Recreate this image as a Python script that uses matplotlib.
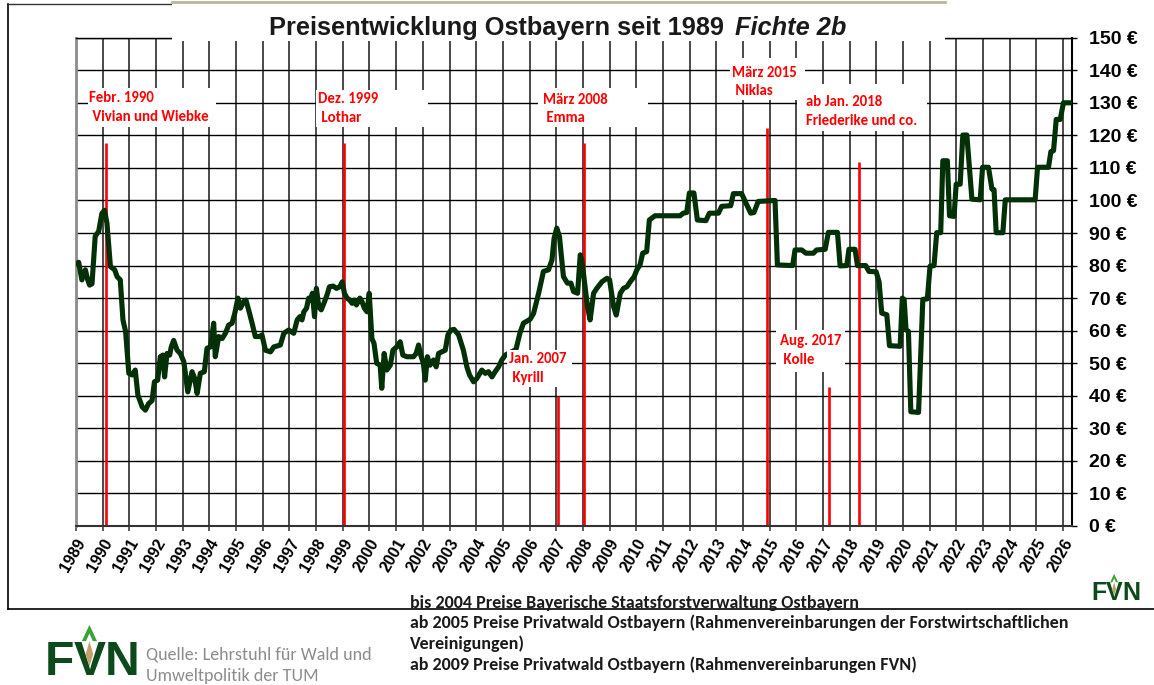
import matplotlib
matplotlib.use("Agg")
import matplotlib.pyplot as plt
from matplotlib import font_manager as fm
from matplotlib.patches import Rectangle, Polygon
from matplotlib.transforms import ScaledTranslation
import numpy as np

# ---------------- data ----------------
years = [
    1989.00, 1989.10, 1989.22, 1989.35, 1989.44, 1989.51, 1989.60, 1989.72, 1989.85, 1989.97,
    1990.07, 1990.16, 1990.29, 1990.45, 1990.54, 1990.66, 1990.76, 1990.86, 1990.98, 1991.10,
    1991.22, 1991.32, 1991.48, 1991.60, 1991.72, 1991.85, 1991.94, 1992.06, 1992.16, 1992.26,
    1992.32, 1992.41, 1992.51, 1992.57, 1992.66, 1992.79, 1992.91, 1993.04, 1993.19, 1993.35,
    1993.45, 1993.54, 1993.66, 1993.81, 1993.91, 1994.04, 1994.16, 1994.22, 1994.35, 1994.48,
    1994.60, 1994.72, 1994.85, 1994.95, 1995.07, 1995.16, 1995.29, 1995.37, 1995.47, 1995.60,
    1995.72, 1995.89, 1995.97, 1996.10, 1996.29, 1996.41, 1996.66, 1996.79, 1996.97, 1997.16,
    1997.29, 1997.39, 1997.47, 1997.54, 1997.64, 1997.72, 1997.79, 1997.86, 1997.94, 1998.01,
    1998.10, 1998.19, 1998.29, 1998.41, 1998.50, 1998.64, 1998.76, 1998.89, 1998.98, 1999.06,
    1999.16, 1999.26, 1999.35, 1999.44, 1999.51, 1999.64, 1999.72, 1999.81, 1999.91, 1999.99,
    2000.09, 2000.17, 2000.27, 2000.40, 2000.46, 2000.55, 2000.65, 2000.78, 2000.88, 2001.02,
    2001.15, 2001.25, 2001.40, 2001.65, 2001.75, 2001.84, 2001.92, 2002.02, 2002.09, 2002.17,
    2002.27, 2002.40, 2002.50, 2002.59, 2002.71, 2002.84, 2002.94, 2003.05, 2003.17, 2003.34,
    2003.52, 2003.65, 2003.75, 2003.90, 2004.02, 2004.21, 2004.34, 2004.46, 2004.59, 2004.71,
    2004.84, 2004.96, 2005.09, 2005.49, 2005.64, 2005.77, 2006.02, 2006.15, 2006.34, 2006.52,
    2006.71, 2006.84, 2006.92, 2007.02, 2007.12, 2007.27, 2007.42, 2007.55, 2007.65, 2007.80,
    2007.90, 2007.96, 2008.05, 2008.17, 2008.27, 2008.40, 2008.52, 2008.71, 2008.90, 2009.00,
    2009.15, 2009.25, 2009.40, 2009.52, 2009.65, 2009.77, 2009.92, 2010.02, 2010.14, 2010.24,
    2010.39, 2010.49, 2010.70, 2011.64, 2011.76, 2011.89, 2011.99, 2012.16, 2012.29, 2012.61,
    2012.74, 2013.08, 2013.20, 2013.54, 2013.64, 2013.95, 2014.11, 2014.29, 2014.41, 2014.57,
    2015.20, 2015.29, 2015.86, 2015.95, 2016.20, 2016.36, 2016.64, 2016.76, 2017.08, 2017.20,
    2017.54, 2017.64, 2017.89, 2017.97, 2018.20, 2018.29, 2018.60, 2018.72, 2018.99, 2019.10,
    2019.20, 2019.39, 2019.49, 2019.89, 2019.97, 2020.04, 2020.11, 2020.20, 2020.29, 2020.58,
    2020.74, 2020.91, 2021.01, 2021.16, 2021.26, 2021.41, 2021.49, 2021.66, 2021.74, 2021.91,
    2021.99, 2022.14, 2022.24, 2022.39, 2022.58, 2022.89, 2022.98, 2023.20, 2023.33, 2023.41,
    2023.49, 2023.74, 2023.83, 2024.95, 2025.04, 2025.45, 2025.54, 2025.64, 2025.74, 2025.89,
    2026.01, 2026.26,
]
prices = [
    80.5, 81.0, 75.6, 78.7, 75.6, 74.0, 74.4, 89.0, 90.5, 96.0,
    97.0, 93.0, 79.7, 78.7, 76.6, 75.6, 63.3, 59.7, 46.9, 46.4,
    47.9, 40.2, 36.6, 35.6, 37.6, 38.5, 44.3, 44.8, 52.0, 52.5,
    45.8, 53.0, 52.5, 55.0, 57.0, 54.0, 53.0, 50.5, 41.2, 47.4,
    45.3, 40.7, 46.9, 47.4, 54.6, 55.0, 62.3, 52.0, 58.2, 57.6,
    59.2, 61.7, 62.3, 65.3, 70.0, 66.9, 69.0, 69.4, 66.4, 62.3,
    58.2, 58.2, 58.7, 54.0, 53.5, 55.0, 55.6, 59.2, 60.2, 59.2,
    63.3, 64.3, 63.3, 65.8, 66.9, 70.0, 69.4, 71.5, 64.3, 73.0,
    67.4, 66.4, 68.4, 71.0, 73.5, 73.7, 73.0, 73.5, 75.0, 71.5,
    70.0, 69.4, 68.4, 69.4, 67.9, 70.0, 68.9, 66.9, 65.8, 71.5,
    57.6, 56.1, 50.0, 49.4, 42.3, 53.0, 47.9, 49.4, 54.0, 55.0,
    56.6, 52.5, 52.0, 52.0, 53.0, 55.6, 52.5, 50.0, 44.8, 52.0,
    49.4, 51.0, 48.9, 53.0, 53.5, 54.0, 58.7, 60.2, 60.4, 58.7,
    54.0, 48.9, 46.4, 44.3, 45.3, 47.9, 46.9, 47.4, 45.8, 47.4,
    48.9, 51.0, 52.5, 54.2, 59.3, 62.3, 63.5, 65.3, 71.5, 78.2,
    78.7, 81.7, 88.4, 91.5, 88.9, 76.6, 74.6, 74.6, 72.0, 71.5,
    83.3, 81.7, 75.6, 67.4, 63.3, 71.5, 73.0, 75.0, 76.1, 75.6,
    67.4, 64.8, 71.5, 73.0, 73.5, 75.0, 76.6, 78.7, 80.2, 83.8,
    84.3, 94.0, 95.3, 95.3, 96.1, 96.3, 102.3, 102.3, 94.0, 93.8,
    96.1, 96.1, 98.2, 98.4, 102.1, 102.1, 99.2, 96.1, 96.3, 99.7,
    100.0, 80.2, 80.0, 84.8, 84.8, 83.8, 83.8, 84.8, 85.0, 90.2,
    90.2, 79.9, 80.0, 85.0, 85.0, 80.0, 80.0, 78.2, 78.1, 75.0,
    65.4, 64.9, 55.4, 55.2, 70.0, 69.6, 60.3, 59.8, 35.1, 34.9,
    69.6, 69.8, 79.8, 80.0, 90.1, 90.1, 112.2, 112.2, 95.3, 95.1,
    105.0, 105.0, 120.1, 120.1, 100.4, 100.2, 110.2, 110.2, 103.5, 103.3,
    90.1, 90.1, 100.2, 100.2, 110.2, 110.2, 115.0, 115.3, 124.9, 124.9,
    130.0, 130.0,
]

tick_years = list(range(1989, 2027))
price_ticks = list(range(0, 151, 10))
price_labels = [f"{v} €" for v in price_ticks]

event_years = [1990.12, 1999.03, 2007.08, 2008.04, 2014.89, 2017.22, 2018.33]
event_tops = [117.6, 117.6, 40.0, 117.6, 122.2, 42.7, 111.7]
event_line1 = ["Febr. 1990", "Dez. 1999", "Jan. 2007", "März 2008", "März 2015", "Aug. 2017", "ab Jan. 2018"]
event_line2 = [" Vivian und Wiebke", " Lothar", " Kyrill", " Emma", " Niklas", " Kolle", "Friederike und co."]

title_main = "Preisentwicklung Ostbayern seit 1989 "
title_italic = "Fichte 2b"
notes = [
    "bis 2004 Preise Bayerische Staatsforstverwaltung Ostbayern",
    "ab 2005 Preise Privatwald Ostbayern (Rahmenvereinbarungen der Forstwirtschaftlichen",
    "Vereinigungen)",
    "ab 2009 Preise Privatwald Ostbayern (Rahmenvereinbarungen FVN)",
]
source_text = ["Quelle: Lehrstuhl für Wald und", "Umweltpolitik der TUM"]
logo_letters = ["F", "V", "N"]

# ---------------- fonts ----------------
names = {f.name for f in fm.fontManager.ttflist}
calib = "Carlito" if "Carlito" in names else "Lato"
arial = "Liberation Sans"

W, H = 1154, 685
DPI = 100
fig = plt.figure(figsize=(W / DPI, H / DPI), dpi=DPI)
fig.patch.set_facecolor("white")


def fx(x):
    return x / W


def fy(y):
    return 1 - y / H


# axes placement (pixels: left 76, right 1072, top 37.7, bottom 526)
L, R, T, B = 76, 1072, 37.7, 526
ax = fig.add_axes([fx(L), fy(B), (R - L) / W, (B - T) / H])
x_end = 1989 + (R - L) / 26.68
ax.set_xlim(1989, x_end)
ax.set_ylim(0, 150)

# grid
for yr in tick_years:
    ax.axvline(yr, color="#4a4a4a", lw=1.4, zorder=1)
for v in price_ticks:
    ax.axhline(v, color="black", lw=1.0, zorder=1)

ax.spines["left"].set_color("#8c8c8c")
ax.spines["left"].set_linewidth(2)
ax.spines["bottom"].set_color("#333333")
ax.spines["bottom"].set_linewidth(1.5)
ax.spines["right"].set_color("black")
ax.spines["right"].set_linewidth(1.5)
ax.spines["top"].set_color("black")
ax.spines["top"].set_linewidth(1.0)

# event lines
ax.vlines(event_years, 0, event_tops, color="#ff0000", lw=1.9, zorder=2)

# price line
ax.plot(years, prices, color="#033006", lw=3.7, solid_joinstyle="round",
        solid_capstyle="round", zorder=3)

# ticks
ax.set_xticks(tick_years)
ax.set_xticklabels([str(y) for y in tick_years], rotation=60, ha="right", va="center",
                   rotation_mode="anchor", fontsize=11.5, fontweight="bold", family=arial)
ax.tick_params(axis="x", length=3.6, width=1.2, color="#444444", pad=6.5)
off = ScaledTranslation(6 / DPI, 0, fig.dpi_scale_trans)
for lab in ax.get_xticklabels():
    lab.set_transform(lab.get_transform() + off)

ax.yaxis.tick_right()
ax.set_yticks(price_ticks)
ax.set_yticklabels(price_labels, fontsize=14, fontweight="bold", family=arial)
ax.tick_params(axis="y", length=3.6, width=1.0, color="black", pad=8.6)

# ---------------- annotations (white boxes + red text) ----------------
boxes = [
    (88, 88, 216, 127),
    (316, 90, 428, 127),
    (538, 88, 648, 127),
    (507, 350, 572, 387),
    (776, 330, 845, 372),
    (797, 84, 927, 131),
    (730, 58, 805, 100),
]
text_pos = [
    ((89, 98), (89, 117)),
    ((318, 99), (318, 118)),
    ((509, 359), (509, 378)),
    ((543, 100), (543, 118)),
    ((732, 73), (732, 91)),
    ((780, 341), (780, 360)),
    ((806, 102), (806, 121)),
]
for (x0, y0, x1, y1) in boxes:
    fig.add_artist(Rectangle((fx(x0), fy(y1)), (x1 - x0) / W, (y1 - y0) / H,
                             transform=fig.transFigure, facecolor="white",
                             edgecolor="none", zorder=5))
for (p1, p2), t1, t2 in zip(text_pos, event_line1, event_line2):
    fig.text(fx(p1[0]), fy(p1[1]), t1, color="#ff0000", fontsize=10.7, fontweight="bold",
             family=calib, ha="left", va="center", zorder=6)
    fig.text(fx(p2[0]), fy(p2[1]), t2, color="#ff0000", fontsize=10.7, fontweight="bold",
             family=calib, ha="left", va="center", zorder=6)

# ---------------- title ----------------
fig.add_artist(Rectangle((fx(172), fy(41)), (945 - 172) / W, 37 / H,
                         transform=fig.transFigure, facecolor="white",
                         edgecolor="none", zorder=5))
tsize = 18.3
fig.text(fx(731), fy(28), title_main, fontsize=tsize, fontweight="bold", family=arial,
         ha="right", va="center", color="#1a1a1a", zorder=6)
fig.text(fx(735), fy(28), title_italic, fontsize=tsize, fontweight="bold", style="italic",
         family=arial, ha="left", va="center", color="#1a1a1a", zorder=6)

# frame lines of the outer box
fig.add_artist(plt.Line2D([fx(8), fx(8)], [fy(4), fy(609)], transform=fig.transFigure,
                          color="black", lw=1.2, zorder=4))
fig.add_artist(plt.Line2D([fx(8), fx(1154)], [fy(609), fy(609)], transform=fig.transFigure,
                          color="black", lw=1.2, zorder=4))
fig.add_artist(plt.Line2D([fx(8), fx(172)], [fy(4), fy(4)], transform=fig.transFigure,
                          color="#333333", lw=1.0, zorder=4))
fig.add_artist(plt.Line2D([fx(172), fx(945)], [fy(1.5), fy(1.5)], transform=fig.transFigure,
                          color="#b9b79c", lw=2.0, zorder=4))

# ---------------- notes ----------------
note_y = [603, 623, 644, 665]
for t, yy in zip(notes, note_y):
    fig.text(fx(410), fy(yy), t, fontsize=13, fontweight="bold", family=calib,
             ha="left", va="center", color="#1a1a1a", zorder=6)
for t, yy in zip(source_text, [654, 676]):
    fig.text(fx(146), fy(yy), t, fontsize=13, family=calib, ha="left", va="center",
             color="#8c8c8c", zorder=6)


# ---------------- logos ----------------
def logo(x0, ybase, em):
    # x0: left px, ybase: baseline px, em: font em size px
    green = "#0c4a1c"
    fsz = em * 72 / DPI
    widths = [0.611, 0.667, 0.722]
    x = x0
    for ch, w in zip(logo_letters, widths):
        fig.text(fx(x), fy(ybase), ch, fontsize=fsz, fontweight="bold", family=arial,
                 color=green, ha="left", va="baseline", zorder=6)
        x += w * em * 0.98
    cap = 0.72 * em
    ytop = ybase - cap
    cx = x0 + em * (0.611 + 0.667 / 2) * 0.98
    s = cap
    pts = [(cx, ytop - s * 0.45), (cx + s * 0.22, ytop + s * 0.02), (cx + s * 0.1, ytop + s * 0.02),
           (cx, ytop - s * 0.2), (cx - s * 0.1, ytop + s * 0.02), (cx - s * 0.22, ytop + s * 0.02)]
    fig.add_artist(Polygon([(fx(a), fy(b)) for a, b in pts], closed=True,
                           transform=fig.transFigure, facecolor="#3aa335",
                           edgecolor="none", zorder=7))
    pts = [(cx, ytop + s * 0.02), (cx + s * 0.11, ytop + s * 0.4), (cx, ytop + s * 0.75),
           (cx - s * 0.11, ytop + s * 0.4)]
    fig.add_artist(Polygon([(fx(a), fy(b)) for a, b in pts], closed=True,
                           transform=fig.transFigure, facecolor="#c4a06a",
                           edgecolor="none", zorder=7))


logo(1091, 600, 25)
logo(45, 675, 48)

fig.savefig("out.png", dpi=DPI, facecolor="white")
